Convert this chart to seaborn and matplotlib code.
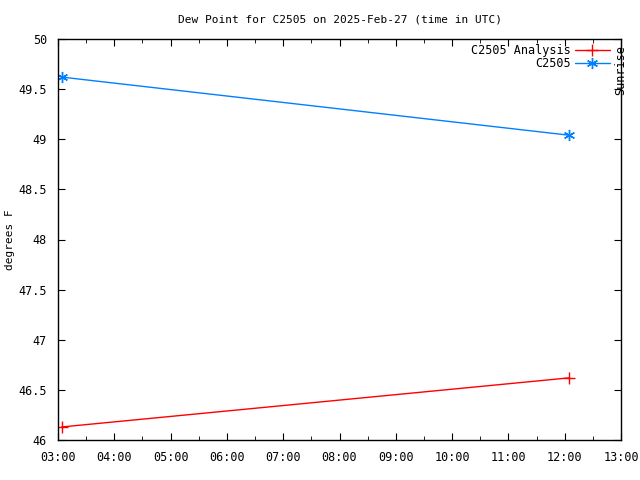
import matplotlib
matplotlib.use("Agg")
import matplotlib.pyplot as plt
import seaborn as sns
import pandas as pd
from matplotlib.ticker import MultipleLocator, FuncFormatter
from matplotlib.lines import Line2D

# Data
times = ["03:04", "12:05"]
analysis_vals = [46.13, 46.62]
obs_vals = [49.62, 49.04]
title = "Dew Point for C2505 on 2025-Feb-27 (time in UTC)"
ylabel = "degrees F"

def to_hours(t):
    h, m = t.split(":")
    return int(h) + int(m) / 60.0

hours = [to_hours(t) for t in times]
df = pd.DataFrame({
    "hour": hours * 2,
    "value": analysis_vals + obs_vals,
    "series": ["C2505 Analysis"] * len(hours) + ["C2505"] * len(hours),
})

sns.set_style("ticks")
plt.rcParams["font.family"] = ["DejaVu Sans Mono"]
plt.rcParams["font.size"] = 8
plt.rcParams["text.color"] = "black"
plt.rcParams["axes.labelcolor"] = "black"
plt.rcParams["xtick.color"] = "black"
plt.rcParams["ytick.color"] = "black"

fig = plt.figure(figsize=(6.4, 4.8), dpi=100)
ax = fig.add_axes([58/640, 1-440/480, (621-58)/640, (440-39)/480])

colors = {"C2505 Analysis": "#ff0000", "C2505": "#0080ff"}
sns.lineplot(data=df, x="hour", y="value", hue="series", style="series",
             palette=colors,
             markers={"C2505 Analysis": "+", "C2505": (6, 2, 0)},
             dashes=False, markersize=8, linewidth=1.0,
             ax=ax, legend=False)

for line in ax.lines:
    c = line.get_color()
    line.set_markeredgecolor(c)
    line.set_markerfacecolor(c)
    line.set_markeredgewidth(1.0)

ax.set_xlim(3, 13)
ax.set_ylim(46, 50)
ax.xaxis.set_major_locator(MultipleLocator(1))
ax.xaxis.set_minor_locator(MultipleLocator(0.5))
ax.yaxis.set_major_locator(MultipleLocator(0.5))
ax.xaxis.set_major_formatter(FuncFormatter(lambda v, p: f"{int(round(v)):02d}:00"))
ax.yaxis.set_major_formatter(FuncFormatter(lambda v, p: f"{v:g}"))
ax.tick_params(which="both", direction="in", top=True, right=True, color="black",
               labelsize=8.5, pad=8)
ax.tick_params(which="major", length=5)
ax.tick_params(which="minor", length=3)
for s in ax.spines.values():
    s.set_color("black")
    s.set_linewidth(1.0)

ax.set_xlabel("")
ax.set_ylabel(ylabel, fontsize=8)
ax.yaxis.set_label_coords(-(58 - 15) / 563, 0.5)
ax.set_title(title, fontsize=8, pad=12)

handles = [
    Line2D([], [], color=colors["C2505 Analysis"], marker="+", markersize=8,
           markeredgewidth=1.0, linewidth=1.0),
    Line2D([], [], color=colors["C2505"], marker=(6, 2, 0), markersize=8,
           markeredgewidth=1.0, linewidth=1.0),
]
leg = ax.legend(handles, ["C2505 Analysis", "C2505"], loc="upper right",
                bbox_to_anchor=(0.9805, 0.9875),
                frameon=False, markerfirst=False, fontsize=8.5,
                handlelength=3.0, borderaxespad=0.0, labelspacing=0.0,
                handletextpad=0.35, borderpad=0.0)

ax.text(1.0, 0.985, "Sunrise", transform=ax.transAxes, rotation=90,
        ha="center", va="top", fontsize=8.5)

fig.savefig("out.png", dpi=100)
